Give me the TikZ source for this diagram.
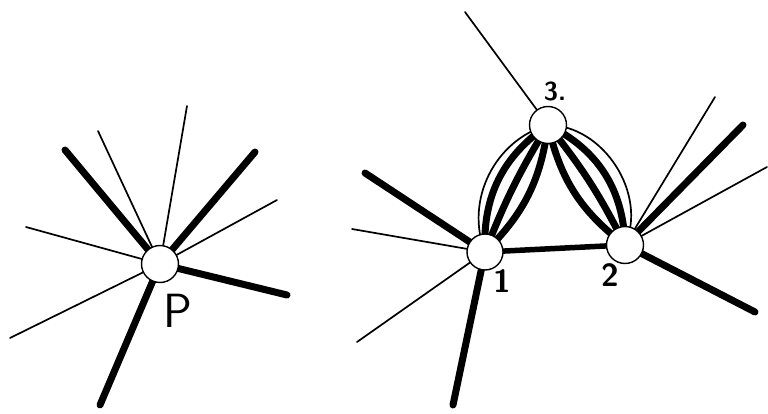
\documentclass[tikz,border=0pt]{standalone}
\usepackage{tikz}
\usetikzlibrary{backgrounds}

\tikzset{
  vertex/.style={circle,draw,fill=white,line width=1.4pt,minimum size=37pt,inner sep=0pt},
  thinline/.style={line width=1.7pt,line cap=round},
  thickline/.style={line width=7pt,line cap=round},
  tag/.style={font=\fontsize{32}{32}\selectfont\sffamily\bfseries}
}

\begin{document}
\begin{tikzpicture}[x=1pt,y=1pt]
  \useasboundingbox (0,0) rectangle (768,-414);

  % left star
  \node[vertex] (P) at (160,-264) {};
  \node[font=\fontsize{48}{48}\selectfont\sffamily] (Plab) at (178,-311) {P};
  \coordinate (p1) at (65,-150);
  \coordinate (p2) at (98,-131);
  \coordinate (p3) at (187,-106);
  \coordinate (p4) at (255,-152);
  \coordinate (p5) at (277,-200);
  \coordinate (p6) at (26,-227);
  \coordinate (p7) at (287,-295);
  \coordinate (p8) at (10,-338);
  \coordinate (p9) at (100,-405);

  % right graph
  \node[vertex,minimum size=36pt] (n1) at (485,-252) {};
  \node[vertex] (n2) at (625,-245) {};
  \node[vertex] (n3) at (548,-125) {};
  \node[tag] (l1) at (502,-281) {1};
  \node[tag] (l2) at (610,-275) {2};
  \node[tag,font=\fontsize{26}{26}\selectfont\sffamily\bfseries] (l3) at (555,-91) {3.};
  \coordinate (a1) at (365,-173);
  \coordinate (a2) at (352,-229);
  \coordinate (a3) at (357,-342);
  \coordinate (a4) at (453,-405);
  \coordinate (b1) at (715,-97);
  \coordinate (b2) at (743,-125);
  \coordinate (b3) at (767,-167);
  \coordinate (b4) at (755,-312);
  \coordinate (c1) at (465,-12);

  \begin{pgfonlayer}{background}
    \draw[thickline] (P.center) -- (p1);
    \draw[thinline] (P.center) -- (p2);
    \draw[thinline] (P.center) -- (p3);
    \draw[thickline] (P.center) -- (p4);
    \draw[thinline] (P.center) -- (p5);
    \draw[thinline] (P.center) -- (p6);
    \draw[thickline] (P.center) -- (p7);
    \draw[thinline] (P.center) -- (p8);
    \draw[thickline] (P.center) -- (p9);

    \draw[thickline] (n1.center) -- (a1);
    \draw[thinline] (n1.center) -- (a2);
    \draw[thinline] (n1.center) -- (a3);
    \draw[thickline] (n1.center) -- (a4);
    \draw[thinline] (n2.center) -- (b1);
    \draw[thickline] (n2.center) -- (b2);
    \draw[thinline] (n2.center) -- (b3);
    \draw[thickline] (n2.center) -- (b4);
    \draw[thinline] (n3.center) -- (c1);
    \draw[line width=5.5pt] (n1.center) -- (n2.center);

    % bundles
    \draw[thinline] (n1.center) to[bend left=48] (n3.center);
    \draw[thickline] (n1.center) to[bend left=29] (n3.center);
    \draw[thickline] (n1.center) to[bend left=5] (n3.center);
    \draw[thickline] (n1.center) to[bend right=19] (n3.center);
    \draw[thinline] (n3.center) to[bend left=57] (n2.center);
    \draw[thickline] (n3.center) to[bend left=31] (n2.center);
    \draw[thickline] (n3.center) to[bend left=6] (n2.center);
    \draw[thickline] (n3.center) to[bend right=20] (n2.center);
  \end{pgfonlayer}
\end{tikzpicture}
\end{document}
